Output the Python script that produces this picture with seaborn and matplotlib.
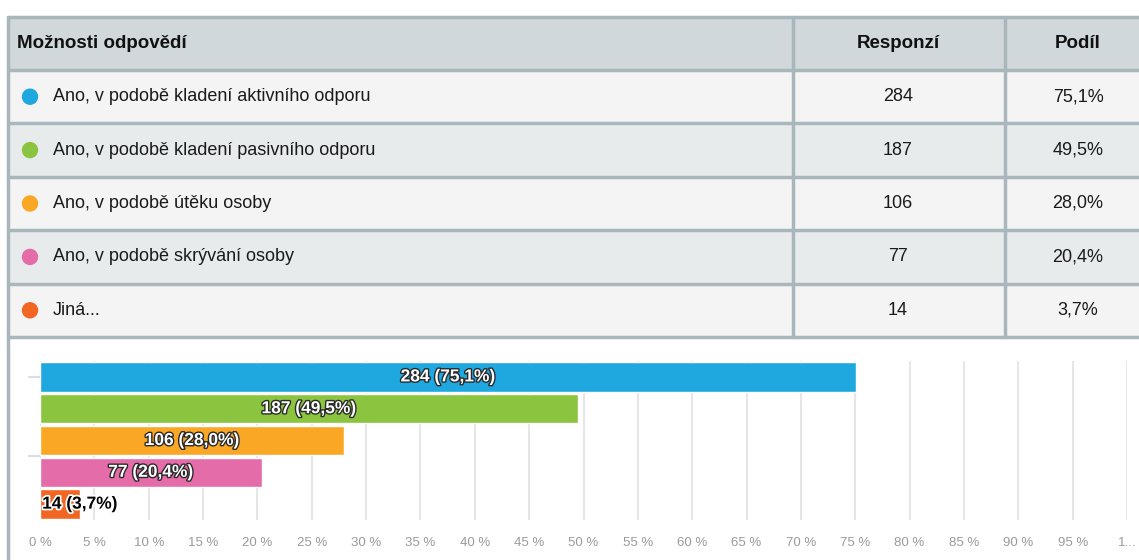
import matplotlib
matplotlib.use("Agg")
import matplotlib.pyplot as plt
import matplotlib.patheffects as pe
from matplotlib.patches import Rectangle, Circle
import pandas as pd
import seaborn as sns

# --- data ---
options = [
    "Ano, v podobě kladení aktivního odporu",
    "Ano, v podobě kladení pasivního odporu",
    "Ano, v podobě útěku osoby",
    "Ano, v podobě skrývání osoby",
    "Jiná...",
]
responses = [284, 187, 106, 77, 14]
shares = [75.1, 49.5, 28.0, 20.4, 3.7]
colors = ["#1fa8df", "#8bc53f", "#f9a724", "#e46ca9", "#f26624"]
header = ["Možnosti odpovědí", "Responzí", "Podíl"]
tick_vals = list(range(0, 101, 5))
tick_labels = [f"{v} %" for v in tick_vals[:-1]] + ["1..."]

def pct(v):
    return f"{v:.1f}".replace(".", ",") + "%"

sns.set_theme(style="white")
plt.rcParams["font.family"] = ["Liberation Sans", "DejaVu Sans"]

W, H = 1139, 560
fig = plt.figure(figsize=(W / 100, H / 100), dpi=100)

# --- table drawn in pixel coordinates ---
tab = fig.add_axes([0, 0, 1, 1])
tab.set_xlim(0, W)
tab.set_ylim(H, 0)
tab.axis("off")

line_c = "#a9b6bb"
x0, x1, x2, x3 = 8, 793, 1005, 1139
top, head_h, row_h = 17, 53, 53.4
tab.add_patch(Rectangle((x0, top), x3 - x0, head_h, color="#d0d8db", zorder=0))
for i in range(len(options)):
    y = top + head_h + i * row_h
    bg = "#f4f4f4" if i % 2 == 0 else "#e8ebec"
    tab.add_patch(Rectangle((x0, y), x3 - x0, row_h, color=bg, zorder=0))
bottom = top + head_h + len(options) * row_h
for k in range(len(options) + 2):
    y = top + (head_h + (k - 1) * row_h if k > 0 else 0)
    tab.plot([x0, x3], [y, y], color=line_c, lw=2.5, zorder=1)
for x in (x1, x2):
    tab.plot([x, x], [top, bottom], color=line_c, lw=2.5, zorder=1)
tab.plot([x0, x0], [top, H], color=line_c, lw=2.5, zorder=1)

fs = 13
hy = top + head_h / 2
tab.text(17, hy, header[0], ha="left", va="center", fontsize=13.5, fontweight="bold", color="#111")
tab.text(898, hy, header[1], ha="center", va="center", fontsize=13.5, fontweight="bold", color="#111")
tab.text(1078, hy, header[2], ha="center", va="center", fontsize=13.5, fontweight="bold", color="#111")
for i, (lab, n, s, c) in enumerate(zip(options, responses, shares, colors)):
    cy = top + head_h + (i + 0.5) * row_h
    tab.add_patch(Circle((30, cy), 7.5, color=c, zorder=2))
    tab.text(53, cy, lab, ha="left", va="center", fontsize=fs, color="#1a1a1a")
    tab.text(898, cy, str(n), ha="center", va="center", fontsize=fs, color="#1a1a1a")
    tab.text(1078, cy, pct(s), ha="center", va="center", fontsize=fs, color="#1a1a1a")

# small y-axis ticks of the chart
for ty in (377, 456):
    tab.plot([29, 40], [ty, ty], color="#d8dde8", lw=1.5)

# --- bar chart ---
ax_l, ax_r, ax_t, ax_b = 40, 1127, 361, 520
ax = fig.add_axes([ax_l / W, (H - ax_b) / H, (ax_r - ax_l) / W, (ax_b - ax_t) / H])
df = pd.DataFrame({"option": options, "share": shares})
sns.barplot(data=df, x="share", y="option", hue="option", palette=colors,
            order=options, hue_order=options, width=0.93, saturation=1,
            legend=False, ax=ax, edgecolor="#ffffff", linewidth=1.0, zorder=3)
ax.set_xlim(0, 100)
ax.set_ylim(4.5, -0.5)
ax.set_xticks(tick_vals)
ax.set_xticklabels(tick_labels, fontsize=9.5, color="#9a9a9a")
ax.set_yticks([])
ax.set_xlabel("")
ax.set_ylabel("")
ax.grid(axis="x", color="#e6e6e6", lw=1.5, zorder=0)
ax.set_axisbelow(True)
for sp in ax.spines.values():
    sp.set_visible(False)
ax.tick_params(axis="x", length=0, pad=12)
ax.patch.set_alpha(0)

for i, (n, s) in enumerate(zip(responses, shares)):
    txt = f"{n} ({pct(s)})"
    if s > 10:
        ax.text(s / 2, i, txt, ha="center", va="center", fontsize=12.5, fontweight="bold",
                color="white", zorder=5,
                path_effects=[pe.withStroke(linewidth=2, foreground="#2a2a2a")])
    else:
        ax.text(0.2, i, txt, ha="left", va="center", fontsize=12.5, fontweight="bold",
                color="black", zorder=5,
                path_effects=[pe.withStroke(linewidth=2.5, foreground="white")])

fig.savefig("out.png", dpi=100)
